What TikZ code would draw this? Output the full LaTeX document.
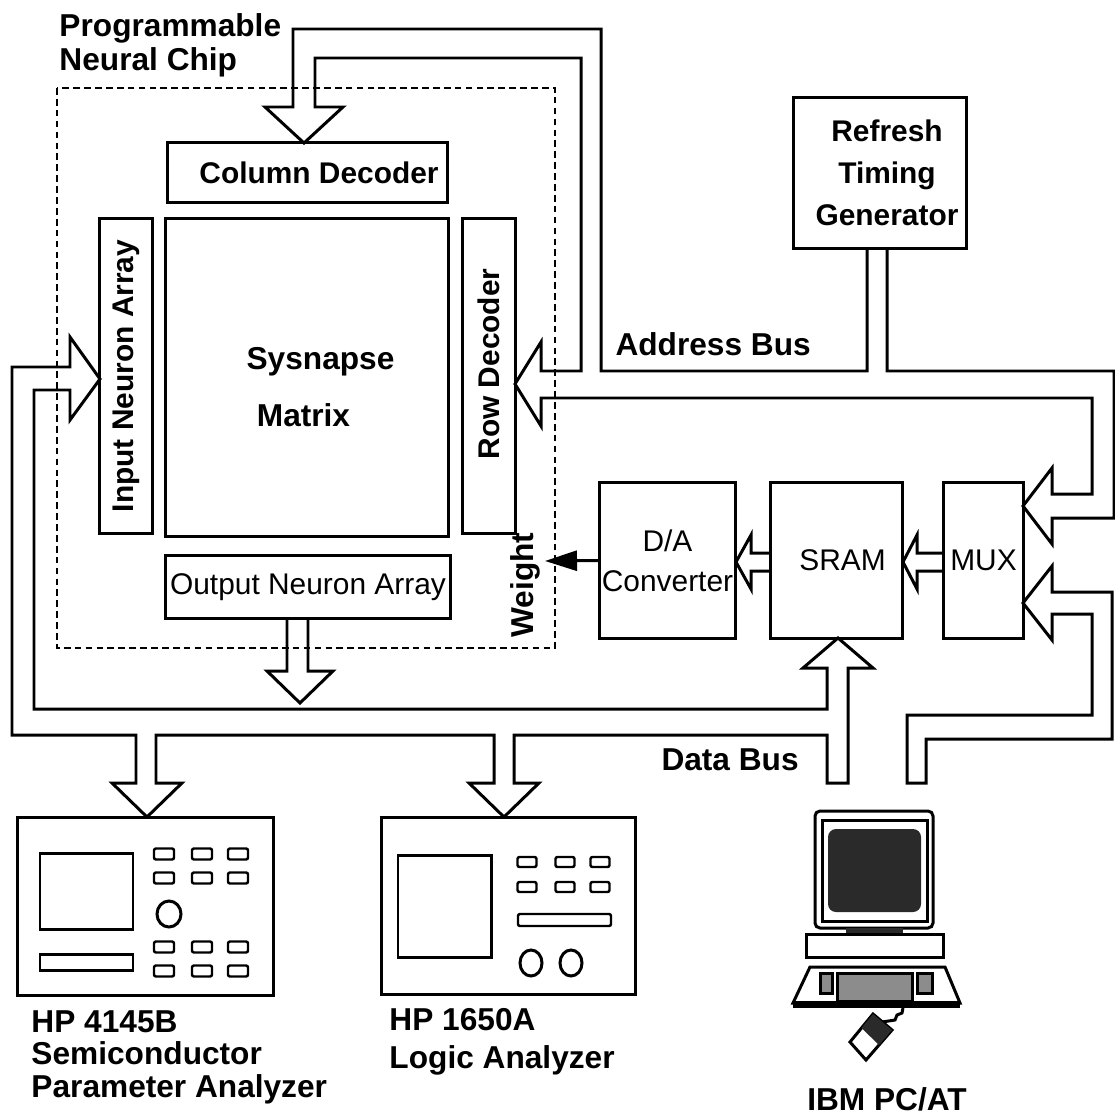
\documentclass[tikz,border=0pt]{standalone}
\usepackage{fontspec}
\setmainfont{Liberation Sans}
\usetikzlibrary{arrows.meta}
\definecolor{screenink}{HTML}{2A2A2A}
\definecolor{keygray}{HTML}{8C8C8C}
\tikzset{
  every picture/.style={line width=0.85pt},
  box/.style={draw,inner sep=0pt,font=\fontsize{8.5}{10}\selectfont\bfseries},
  plainbox/.style={box,font=\fontsize{8.5}{10}\selectfont},
  lbl/.style={inner sep=0pt,font=\fontsize{9}{10}\selectfont\bfseries},
  chipedge/.style={draw,line width=0.75pt,dash pattern=on 1.9pt off 1.2pt},
  bus/.style={draw,line join=miter},
  button/.style={draw,line width=0.7pt,rounded corners=0.2mm},
}

\begin{document}
\begin{tikzpicture}[x=0.01cm,y=-0.01cm]
  \useasboundingbox (0,0) rectangle (1115,1115);
  % chip outline and its blocks
  \draw[chipedge] (57,88) rectangle (555,648);
  \node[lbl,anchor=north west,align=left,font=\fontsize{9}{9.7}\selectfont\bfseries]
    (chip) at (58,12) {Programmable\\Neural Chip};
  \node[box,minimum width=2.79cm,minimum height=0.59cm] (coldec) at (307.5,172.5)
    {\hspace*{0.23cm}Column Decoder};
  \node[box,minimum width=3.14cm,minimum height=0.52cm,rotate=90] (inarr) at (126,376)
    {Input Neuron Array};
  \node[box,minimum width=2.82cm,minimum height=3.17cm] (synapse) at (307,377.5) {};
  \node[lbl,align=center,font=\fontsize{9}{16.2}\selectfont\bfseries] (synlbl) at (320.5,387)
    {Sysnapse\\\hspace*{-0.34cm}Matrix};
  \node[box,minimum width=3.14cm,minimum height=0.52cm,rotate=90] (rowdec) at (489,376)
    {\hspace*{0.24cm}Row Decoder};
  \node[plainbox,minimum width=2.84cm,minimum height=0.62cm] (outarr) at (308,587)
    {Output Neuron Array};

  % weight path
  \node[plainbox,minimum width=1.35cm,minimum height=1.55cm,align=center,
    font=\fontsize{8.5}{11.4}\selectfont] (dac) at (667.5,560.5) {D/A\\Converter};
  \node[plainbox,minimum width=1.31cm,minimum height=1.55cm] (sram) at (836.5,560.5)
    {\hspace*{0.12cm}SRAM};
  \node[plainbox,minimum width=0.79cm,minimum height=1.55cm] (mux) at (983.5,560.5) {MUX};
  \node[box,minimum width=1.72cm,minimum height=1.50cm,align=center,
    font=\fontsize{8.5}{12}\selectfont\bfseries] (refresh) at (880,173)
    {\hspace*{0.14cm}Refresh\\\hspace*{0.14cm}Timing\\\hspace*{0.14cm}Generator};
  \coordinate (wtip) at (545,561);
  \draw[-{Triangle[length=3.2mm,width=2mm]}] (dac.west) -- (wtip);
  \node[lbl,rotate=90,anchor=base] (wlbl) at (533,585) {Weight};
  \draw[bus] (771,553) -- (751,553) -- (751,535) -- (736,562) -- (751,589) -- (751,571) -- (771,571);
  \draw[bus] (944,553) -- (917,553) -- (917,535) -- (903,562) -- (917,589) -- (917,571) -- (944,571);

  % address bus
  \draw[bus] (867,248) -- (867,371) -- (601,371) -- (601,29) -- (293,29) -- (293,107)
    -- (265,107) -- (304,143) -- (343,107) -- (315,107) -- (315,58) -- (581,58)
    -- (581,371) -- (541,371) -- (541,342) -- (515,384) -- (541,426) -- (541,398)
    -- (1092,398) -- (1092,494) -- (1052,494) -- (1052,468) -- (1023,506)
    -- (1052,544) -- (1052,518) -- (1114,518) -- (1114,371) -- (887,371) -- (887,248);
  \node[lbl,anchor=base west] (abus) at (614,355) {Address Bus};

  % data bus
  \draw[bus] (70,367) -- (12,367) -- (12,735) -- (136,735) -- (136,783) -- (112,783)
    -- (147,817) -- (182,783) -- (156,783) -- (156,735) -- (494,735) -- (494,783)
    -- (469,783) -- (504,817) -- (539,783) -- (514,783) -- (514,735) -- (827,735)
    -- (827,783) -- (848,783) -- (848,668) -- (873,668) -- (838,638) -- (803,668)
    -- (827,668) -- (827,709) -- (34,709) -- (34,390) -- (70,390) -- (70,420)
    -- (100,379) -- (70,337) -- cycle;
  \draw[bus] (287,618) -- (287,671) -- (267,671) -- (300,703) -- (333,671) -- (308,671) -- (308,618);
  \draw[bus] (907,783) -- (907,715) -- (1092,715) -- (1092,614) -- (1052,614) -- (1052,640)
    -- (1023,603) -- (1052,566) -- (1052,592) -- (1112,592) -- (1112,739) -- (926,739)
    -- (926,783) -- cycle;
  \node[lbl,anchor=base west] (dbus) at (660,770) {Data Bus};

  % parameter analyzer
  \node[draw,minimum width=2.55cm,minimum height=1.77cm] (hp4145) at (145.5,906.5) {};
  \draw (40,853) rectangle (133,929);
  \draw (40,954) rectangle (133,970);
  \foreach \bx in {164,202,238}
    \foreach \by in {854,878,947,971}
      \draw[button] ({\bx-10},{\by-5.5}) rectangle ({\bx+10},{\by+5.5});
  \draw (169,914) ellipse [x radius=0.12cm,y radius=0.13cm];
  \node[lbl,anchor=north west,align=left,font=\fontsize{9}{9.3}\selectfont\bfseries]
    (lbl4145) at (30,1009) {HP 4145B\\Semiconductor\\Parameter Analyzer};

  % logic analyzer
  \node[draw,minimum width=2.53cm,minimum height=1.76cm] (hp1650) at (508.5,906) {};
  \draw (398,855) rectangle (491,957);
  \draw[button] (518,914) rectangle (611,926);
  \foreach \bx in {527,565,600}
    \foreach \by in {862,887}
      \draw[button] ({\bx-9.5},{\by-5}) rectangle ({\bx+9.5},{\by+5});
  \foreach \kx in {531,571}
    \draw (\kx,963) ellipse [x radius=0.11cm,y radius=0.13cm];
  \node[lbl,anchor=north west,align=left,font=\fontsize{9}{10.8}\selectfont\bfseries]
    (lbl1650) at (388,1007) {HP 1650A\\Logic Analyzer};

  % the PC
  \draw[rounded corners=0.5mm] (815,811) rectangle (933,928);
  \draw (822,820) rectangle (927,921);
  \fill[screenink,rounded corners=0.8mm] (828,829) rectangle (921,912);
  \fill[screenink] (846,928) rectangle (903,935);
  \draw[fill=white] (806,934) rectangle (943,957);
  \draw[fill=white] (810,967) -- (945,967) -- (960,1003) -- (793,1003) -- cycle;
  \fill (793,1001) rectangle (960,1008);
  \draw[fill=keygray] (837,973) rectangle (912,1001);
  \draw[fill=keygray] (820,973) rectangle (832,993);
  \draw[fill=keygray] (917,973) rectangle (932,993);
  \draw (903,1008) -- (902,1013) -- (897,1015) -- (895,1020) -- (882,1022);
  \draw[fill=white] (873,1014) -- (892,1030) -- (866,1060) -- (850,1042) -- cycle;
  \fill[screenink] (873,1014) -- (892,1030) -- (879,1045) -- (861.5,1028) -- cycle;
  \node[lbl,anchor=base] (pclbl) at (887,1110) {IBM PC/AT};
\end{tikzpicture}
\end{document}
